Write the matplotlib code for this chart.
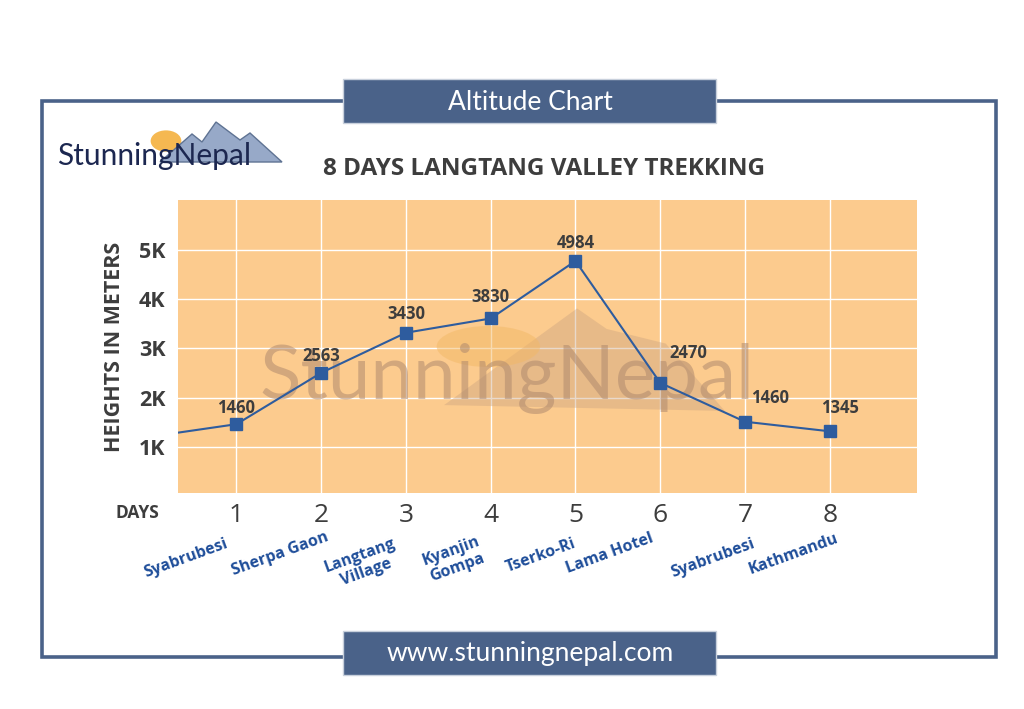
import numpy as np
import matplotlib.pyplot as plt
from matplotlib.patches import Rectangle, Polygon, Circle

# ===== data =====
days = [0, 1, 2, 3, 4, 5, 6, 7, 8]
heights = [1210, 1460, 2505, 3320, 3610, 4780, 2300, 1510, 1315]  # plotted line values
label_days = [1, 2, 3, 4, 5, 6, 7, 8]
label_text = ["1460", "2563", "3430", "3830", "4984", "2470", "1460", "1345"]
places = ["Syabrubesi", "Sherpa Gaon", "Langtang\nVillage", "Kyanjin\nGompa",
          "Tserko-Ri", "Lama Hotel", "Syabrubesi", "Kathmandu"]
ytick_vals = [1000, 2000, 3000, 4000, 5000]
ytick_labels = ["1K", "2K", "3K", "4K", "5K"]

# label offsets (pixels) and place-name offsets (pixels)
lab_off = [(0, 16), (0, 17), (0, 19), (0, 21), (0, 18), (28, 30), (25, 24), (10, 23)]
place_dx = [-9, 7, -8, -8, 0, -7, 9, 8]
place_dy = [0, -6, 8, 6, 0, -5, 0, -5]

W, H = 1024, 709
BLUE = "#4a6289"
TXT = "#3d3d3d"
FONT = ["Open Sans", "DejaVu Sans"]
THIN = ["Lato", "DejaVu Sans"]

plt.rcParams['font.family'] = FONT

fig = plt.figure(figsize=(W / 100, H / 100), dpi=100)
fig.patch.set_facecolor("white")


def fx(x):
    return x / W


def fy(y):
    return 1 - y / H


# --- frame + header/footer boxes ---
fig.add_artist(Rectangle((fx(42), fy(657)), fx(996) - fx(42), fy(101) - fy(657),
                         transform=fig.transFigure, fill=False, ec=BLUE, lw=2.6))
for y0, y1, s in [(79, 123, "Altitude Chart"), (631, 675, "www.stunningnepal.com")]:
    fig.add_artist(Rectangle((fx(343), fy(y1)), fx(716) - fx(343), fy(y0) - fy(y1),
                             transform=fig.transFigure, fc=BLUE, ec="#c8d0dc", lw=1))
    fig.text(fx(530), fy((y0 + y1) / 2 + 1), s, color="white", fontsize=19,
             ha="center", va="center", family=THIN)

# --- logo (top left) ---
fig.add_artist(Circle((fx(166), fy(141)), 0.015, transform=fig.transFigure,
                      fc="#f4b13e", ec="none", alpha=0.9))
fig.add_artist(Polygon([(fx(160), fy(162)), (fx(192), fy(134)), (fx(202), fy(142)),
                        (fx(216), fy(122)), (fx(240), fy(140)), (fx(250), fy(133)),
                        (fx(282), fy(162))],
                       closed=True, transform=fig.transFigure, fc="#97a9c8", ec="#5f7393", lw=1))
fig.text(fx(57), fy(156), "StunningNepal", color="#1c2750", fontsize=21.5,
         ha="left", va="center", family=THIN)

# --- title ---
fig.text(fx(544), fy(169), "8 DAYS LANGTANG VALLEY TREKKING", color=TXT,
         fontsize=17.5, fontweight="bold", ha="center", va="center")

# --- main axes ---
ax = fig.add_axes([fx(178), fy(493), fx(917) - fx(178), fy(200) - fy(493)])
ax.set_facecolor("#fccb8e")
ax.set_xlim(0.31, 9.03)
ax.set_ylim(60, 6020)

# watermark
ax.add_patch(Polygon([(0.36, 0.30), (0.54, 0.63), (0.58, 0.56), (0.66, 0.51), (0.74, 0.28)],
                     closed=True, transform=ax.transAxes, fc="#c9a27f", ec="none", alpha=0.4))
ax.add_patch(Circle((0.42, 0.50), 0.07, transform=ax.transAxes, fc="#f2b866", ec="none", alpha=0.5))
ax.text(0.445, 0.39, "StunningNepal", transform=ax.transAxes, fontsize=55,
        color="#b08a6e", alpha=0.55, ha="center", va="center", family=THIN)

ax.grid(True, color="white", lw=1)
ax.set_axisbelow(True)
for sp in ax.spines.values():
    sp.set_visible(False)

ax.plot(days, heights, color="#2e5c9e", lw=1.5, marker="s", ms=9,
        mfc="#2e5c9e", mec="#2e5c9e", zorder=3)

for d, t, (dx, dy) in zip(label_days, label_text, lab_off):
    ax.annotate(t, (d, heights[days.index(d)]), xytext=(dx * 0.72, dy * 0.72),
                textcoords="offset points", ha="center", va="center",
                fontsize=12, fontweight="bold", color=TXT)

ax.set_yticks(ytick_vals)
ax.set_yticklabels(ytick_labels, fontsize=15.5, fontweight="bold", color=TXT)
ax.set_xticks(label_days)
ax.set_xticklabels([str(d) for d in label_days], fontsize=19, color=TXT)
ax.tick_params(length=0)
ax.tick_params(axis="y", pad=9)
ax.tick_params(axis="x", pad=7)

ax.set_ylabel("HEIGHTS IN METERS", fontsize=15.5, fontweight="bold", color=TXT, labelpad=10)

fig.text(fx(137), fy(513), "DAYS", fontsize=12.5, fontweight="bold", color=TXT,
         ha="center", va="center")

# place names under the day numbers
blend = ax.get_xaxis_transform()
for d, p, dx, dy in zip(label_days, places, place_dx, place_dy):
    ax.annotate(p, (d, 0), xycoords=blend, xytext=(dx * 0.72, -(50 + dy) * 0.72),
                textcoords="offset points", ha="right", va="center",
                rotation=20, rotation_mode="anchor", multialignment="center",
                fontsize=11.5, fontweight="bold", color="#1f4e9a", linespacing=1.15,
                annotation_clip=False)

fig.savefig("out.png", dpi=100)
